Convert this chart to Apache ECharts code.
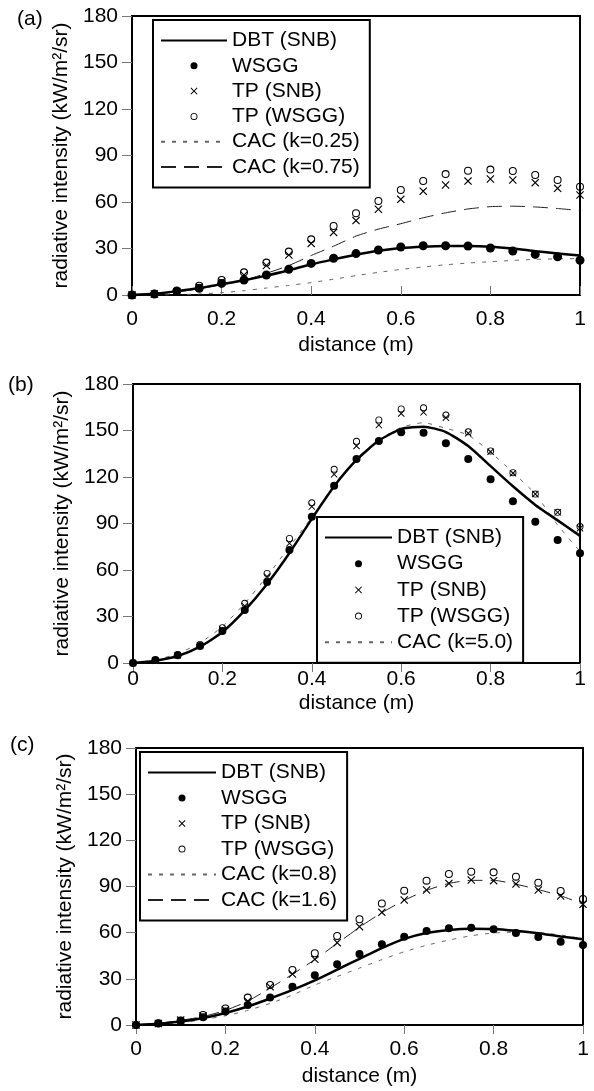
<!DOCTYPE html>
<html>
<head>
<meta charset="UTF-8">
<title>radiative intensity</title>
<style>
  body { margin: 0; background: #fff; }
  #chart { width: 594px; height: 1091px; }
</style>
<script src="https://cdn.jsdelivr.net/npm/echarts/dist/echarts.min.js"></script>
</head>
<body>
<div id="chart"></div>
<script>
// distance along the path (m)
var distance = [0, 0.05, 0.1, 0.15, 0.2, 0.25, 0.3, 0.35, 0.4, 0.45, 0.5, 0.55, 0.6, 0.65, 0.7, 0.75, 0.8, 0.85, 0.9, 0.95, 1];
var xTicks = [0, 0.2, 0.4, 0.6, 0.8, 1];
var yTicks = [0, 30, 60, 90, 120, 150, 180];

// (a)
var aDBT    = [0, 0.8, 2.5, 4.5, 7, 9.5, 12.5, 16, 19.8, 23, 26, 28.5, 30.3, 31.2, 31.6, 31.6, 31.2, 30, 28.3, 26.8, 25.5];
var aWSGG   = [0, 0.6, 2.6, 4.3, 7.5, 9.7, 12.9, 16.6, 20.4, 23.7, 26.7, 29, 31, 31.8, 31.8, 31.6, 30.3, 28.4, 26.2, 24.7, 22.4];
var aTPSNB  = [0, 0.6, 2, 5, 8.6, 12.9, 19, 25.8, 33.3, 40.4, 48, 55.3, 61.7, 67, 71, 73.5, 74.8, 74.2, 72.5, 68.8, 64.5];
var aTPWSGG = [0, 0.8, 2.5, 6, 9.7, 14.6, 20.9, 28, 35.9, 44.5, 52.7, 60.6, 67.7, 73.5, 78, 80.2, 80.9, 80, 77.4, 74.2, 69.9];
var aCAC025 = [0, 0, 0.2, 0.7, 1.5, 2.8, 4.5, 6.2, 8, 10.2, 12.5, 14.6, 16.5, 18.1, 19.5, 20.6, 21.5, 22.3, 23, 23.3, 23.5];
var aCAC075 = [0, 0.5, 2, 4, 6.5, 9.5, 14, 19, 25.5, 31.5, 38, 42.5, 46, 49.8, 53, 55.5, 57, 57.3, 56.8, 55.8, 54.5];

// (b)
var bDBT    = [0, 1.5, 4.5, 10.5, 20, 34, 51, 71, 93, 114, 131, 143.5, 151, 152.5, 149, 140, 127, 114, 102, 92, 82];
var bWSGG   = [0, 1.9, 5, 11, 20.6, 34.2, 52.3, 72.9, 94.4, 114.4, 131.6, 143.2, 148.8, 148.6, 141.7, 131.6, 118.5, 104.3, 91.2, 79.4, 70.8];
var bTPSNB  = [0, 1.5, 5, 11.5, 21.7, 36.8, 55.7, 77.2, 100.9, 121.7, 140, 153.5, 161, 161.7, 158.3, 148.2, 136.3, 122.4, 109, 97.2, 86.9];
var bTPWSGG = [0, 1.8, 5.5, 12, 22.8, 38.5, 57.8, 80.4, 103.4, 125, 143, 156.8, 163.9, 164.7, 160, 149.2, 136.8, 122.8, 109, 97.2, 88];
var bCAC50  = [0, 2, 6, 13, 23.5, 38.5, 56, 75, 94, 115, 132, 144, 152, 155, 151.4, 147, 136, 123, 109, 89, 72];

// (c)
var cDBT    = [0, 0.8, 2.2, 4.5, 7.8, 12, 17.2, 22.8, 29, 36, 43, 50, 56, 59.8, 61.8, 62.6, 62.4, 61.2, 59.6, 57.5, 55.7];
var cWSGG   = [0, 1.1, 2.8, 5, 8.7, 13, 17.8, 24.9, 32.3, 39.4, 46.1, 52.4, 57.4, 61.1, 62.8, 63.2, 62.2, 59.8, 57.2, 54.1, 52];
var cTPSNB  = [0, 1, 3.2, 5.8, 9.7, 15.5, 24.9, 33.1, 42.7, 53.5, 63.9, 73.2, 81.2, 87.7, 92, 94.2, 93.8, 91.6, 87.7, 83.8, 78.4];
var cTPWSGG = [0, 1, 3, 6.5, 10.8, 17.8, 26, 35.7, 46.6, 57.8, 68.7, 79, 87.3, 93.8, 98.1, 99.6, 99.2, 96.4, 92.5, 87.1, 81.9];
var cCAC08  = [0, 0.5, 1.5, 3.5, 6, 9.5, 14, 19.5, 26, 31.5, 37, 42.5, 47.6, 51.8, 55.2, 58, 59.8, 60.3, 60, 58.5, 56];
var cCAC16  = [0, 1, 3, 5.5, 9.5, 15.5, 24, 33, 42.5, 53, 63.5, 73, 81, 87.5, 92, 94, 94, 91.5, 88, 84, 78.5];

var FONT = 'Liberation Sans';
var CROSS = 'path://M0,1L1,0L5,4L9,0L10,1L6,5L10,9L9,10L5,6L1,10L0,9L4,5Z';
var RING = 'path://M5,0A5,5 0 1,1 5,10A5,5 0 1,1 5,0ZM5,1.3A3.7,3.7 0 1,0 5,8.7A3.7,3.7 0 1,0 5,1.3Z';
var LINE_NAMES = ['DBT (SNB)', 'CAC (k=0.25)', 'CAC (k=0.75)', 'CAC (k=5.0)', 'CAC (k=0.8)', 'CAC (k=1.6)'];

function pairs(ys) {
  return distance.map(function (d, i) { return [d, ys[i]]; });
}

// panel frames
var grids = [
  { left: 132, top: 16, width: 448, height: 279 },
  { left: 133, top: 384, width: 447, height: 279 },
  { left: 136, top: 748, width: 447, height: 277 }
];
var labelMargin = [14, 6, 14];
var nameGap = [40, 30, 41];
var tickInside = [true, false, false];

var xAxes = [], yAxes = [];
grids.forEach(function (g, i) {
  xAxes.push({
    type: 'value', gridIndex: i, min: 0, max: 1, interval: 0.2,
    name: 'distance (m)', nameLocation: 'middle', nameGap: nameGap[i],
    nameTextStyle: { fontFamily: FONT, fontSize: 21, color: '#000' },
    axisLine: { lineStyle: { color: '#000', width: 2 } },
    axisTick: { inside: tickInside[i], length: 9, lineStyle: { color: '#777', width: 1 } },
    axisLabel: { margin: labelMargin[i], fontFamily: FONT, fontSize: 21, color: '#000',
      formatter: function (v) { return xTicks.indexOf(+v.toFixed(1)) >= 0 ? String(+v.toFixed(1)) : ''; } },
    splitLine: { show: false }
  });
  yAxes.push({
    type: 'value', gridIndex: i, min: 0, max: 180, interval: 30,
    name: 'radiative intensity (kW/m\u00b2/sr)', nameLocation: 'middle', nameGap: 57,
    nameTextStyle: { fontFamily: FONT, fontSize: 21, color: '#000' },
    axisLine: { show: true, lineStyle: { color: '#000', width: 2 } },
    axisTick: { show: true, length: 10, lineStyle: { color: '#777', width: 1 } },
    axisLabel: { margin: 14, fontFamily: FONT, fontSize: 21, color: '#000',
      formatter: function (v) { return yTicks.indexOf(v) >= 0 ? String(v) : ''; } },
    splitLine: { show: false }
  });
});

function line(name, i, ys, width, type, color) {
  return {
    name: name, type: 'line', xAxisIndex: i, yAxisIndex: i, data: pairs(ys),
    symbol: 'none', smooth: 0.2, z: 2,
    lineStyle: { color: color, width: width, type: type },
    itemStyle: { color: 'rgba(0,0,0,0)' }
  };
}
function marks(name, i, ys, symbol, size) {
  return {
    name: name, type: 'scatter', xAxisIndex: i, yAxisIndex: i, data: pairs(ys),
    symbol: symbol, symbolSize: size, z: 3,
    itemStyle: { color: '#000', opacity: 1 }
  };
}

var DOT = [4, 7], DASH = [15, 8];
var series = [
  line('CAC (k=0.25)', 0, aCAC025, 1, DOT, '#666'),
  line('CAC (k=0.75)', 0, aCAC075, 1, DASH, '#222'),
  line('DBT (SNB)', 0, aDBT, 2.5, 'solid', '#000'),
  marks('TP (SNB)', 0, aTPSNB, CROSS, 8),
  marks('TP (WSGG)', 0, aTPWSGG, RING, 8),
  marks('WSGG', 0, aWSGG, 'circle', 9),

  line('CAC (k=5.0)', 1, bCAC50, 1, DOT, '#666'),
  line('DBT (SNB)', 1, bDBT, 2.5, 'solid', '#000'),
  marks('TP (SNB)', 1, bTPSNB, CROSS, 7),
  marks('TP (WSGG)', 1, bTPWSGG, RING, 7),
  marks('WSGG', 1, bWSGG, 'circle', 8),

  line('CAC (k=0.8)', 2, cCAC08, 1, DOT, '#666'),
  line('CAC (k=1.6)', 2, cCAC16, 1, DASH, '#222'),
  line('DBT (SNB)', 2, cDBT, 2.5, 'solid', '#000'),
  marks('TP (SNB)', 2, cTPSNB, CROSS, 8),
  marks('TP (WSGG)', 2, cTPWSGG, RING, 8),
  marks('WSGG', 2, cWSGG, 'circle', 8)
];

function legend(names, left, top, width, gap) {
  return {
    data: names.map(function (n) {
      return LINE_NAMES.indexOf(n) >= 0 ? { name: n, itemStyle: { opacity: 0 } } : { name: n };
    }),
    orient: 'vertical', left: left, top: top,
    itemWidth: width, itemHeight: 7, itemGap: gap,
    padding: [10, 10, 10, 7],
    backgroundColor: '#fff', borderColor: '#000', borderWidth: 2,
    selectedMode: false,
    textStyle: { fontFamily: FONT, fontSize: 21, color: '#000', lineHeight: 21 }
  };
}

var chart = echarts.init(document.getElementById('chart'), null, { renderer: 'canvas' });
chart.setOption({
  animation: false,
  backgroundColor: '#fff',
  title: [
    { text: '(a)', left: 17, top: 9, padding: 0, textStyle: { fontFamily: FONT, fontSize: 21, fontWeight: 'normal', color: '#000' } },
    { text: '(b)', left: 8, top: 375, padding: 0, textStyle: { fontFamily: FONT, fontSize: 21, fontWeight: 'normal', color: '#000' } },
    { text: '(c)', left: 10, top: 735, padding: 0, textStyle: { fontFamily: FONT, fontSize: 21, fontWeight: 'normal', color: '#000' } }
  ],
  grid: grids.map(function (g) {
    return { left: g.left, top: g.top, width: g.width, height: g.height,
      show: true, borderColor: '#000', borderWidth: 2, backgroundColor: 'transparent' };
  }),
  xAxis: xAxes,
  yAxis: yAxes,
  legend: [
    legend(['DBT (SNB)', 'WSGG', 'TP (SNB)', 'TP (WSGG)', 'CAC (k=0.25)', 'CAC (k=0.75)'], 153, 20, 66, 4.3),
    legend(['DBT (SNB)', 'WSGG', 'TP (SNB)', 'TP (WSGG)', 'CAC (k=5.0)'], 317, 517, 67, 5.2),
    legend(['DBT (SNB)', 'WSGG', 'TP (SNB)', 'TP (WSGG)', 'CAC (k=0.8)', 'CAC (k=1.6)'], 140, 752, 68, 4.5)
  ],
  series: series
});
</script>
</body>
</html>
